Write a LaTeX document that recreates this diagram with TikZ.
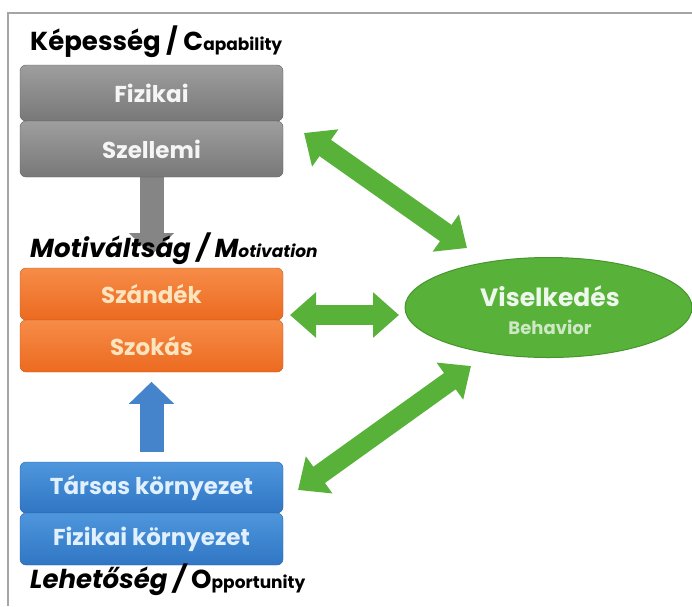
\documentclass[tikz,border=0pt]{standalone}
\usepackage{fontspec}
\setmainfont{Poppins}
\usetikzlibrary{arrows.meta,shapes.geometric}
\definecolor{grayA}{RGB}{158,158,158}
\definecolor{grayB}{RGB}{120,120,120}
\definecolor{orA}{RGB}{246,140,72}
\definecolor{orB}{RGB}{236,106,32}
\definecolor{blA}{RGB}{78,150,220}
\definecolor{blB}{RGB}{48,118,196}
\definecolor{grn}{RGB}{88,178,58}
\definecolor{grnD}{RGB}{70,150,45}
\definecolor{orTxt}{RGB}{252,228,190}
\definecolor{blTxt}{RGB}{225,240,255}
\definecolor{frameC}{RGB}{165,165,165}
\tikzset{
  box/.style={rounded corners=6pt, minimum width=263pt, inner sep=0pt,
    font=\fontsize{23}{25}\selectfont\bfseries, anchor=center},
  graybox/.style={box, top color=grayA, bottom color=grayB, draw=grayB!80!black, text=white!92!gray},
  orbox/.style={box, top color=orA, bottom color=orB, draw=orB!85!black, text=orTxt},
  blbox/.style={box, top color=blA, bottom color=blB, draw=blB!85!black, text=blTxt},
  heading/.style={anchor=west, inner sep=0pt, text=black},
  bigarrow/.style={draw=grn, line width=20pt,
    arrows={Triangle[width=44pt,length=26pt]-Triangle[width=44pt,length=26pt]}},
  updown/.style={line width=24pt, arrows={-Triangle[width=44pt,length=22pt]}}
}
\newcommand{\bigsz}{\fontsize{26}{28}\selectfont}
\newcommand{\smsz}{\fontsize{17}{19}\selectfont}
\begin{document}
\begin{tikzpicture}[x=1pt,y=-1pt]
\useasboundingbox (0,0) rectangle (692,606);
\fill[white] (0,0) rectangle (692,606);
% frame
\draw[frameC, line width=2pt] (8,606) -- (8,13) -- (692,13);

% vertical arrows (behind headings)
\draw[updown, draw=grayB!90!white] (151.5,177) -- (151.5,255);

% capability
\node[heading] (capT) at (30,42) {\bigsz\bfseries Képesség / C{\smsz apability}};
\node[graybox, minimum height=56pt] (fiz) at (151.5,93) {Fizikai};
\node[graybox, minimum height=56pt] (szel) at (151.5,149) {Szellemi};

% motivation
\node[heading] (motT) at (30,249) {\bigsz\bfseries\itshape Motiváltság / M{\smsz otivation}};
\node[orbox, minimum height=52pt] (szan) at (151.5,294) {Szándék};
\node[orbox, minimum height=52pt] (szok) at (151.5,346) {Szokás};

% opportunity
\node[blbox, minimum height=51pt] (tars) at (151.5,487.5) {Társas környezet};
\node[blbox, minimum height=52pt] (fizk) at (151.5,539) {Fizikai környezet};
\node[heading] (oppT) at (30,580) {\bigsz\bfseries\itshape Lehetőség / {\upshape O{\smsz pportunity}}};

\draw[updown, draw=blB!90!white] (tars.north) ++(0,-10) -- ++(0,-70);

% behaviour
\node[ellipse, minimum width=287pt, minimum height=100pt, inner sep=0pt,
  fill=grn, draw=grnD, line width=1pt] (beh) at (548.5,307.5) {};
\node[text=white!90!grn, font=\fontsize{25}{27}\selectfont\bfseries] (vis) at (550,296) {Viselkedés};
\node[text=white!70!grn, font=\fontsize{18}{20}\selectfont\bfseries] (bhv) at (550,327) {Behavior};

% double arrows
\coordinate (a1) at (304,133);
\coordinate (a2) at (467,248);
\coordinate (b1) at (290,315);
\coordinate (b2) at (399,315);
\coordinate (c1) at (298,490);
\coordinate (c2) at (471,366);
\draw[bigarrow] (a1) -- (a2);
\draw[bigarrow] (b1) -- (b2);
\draw[bigarrow] (c1) -- (c2);
\end{tikzpicture}
\end{document}
